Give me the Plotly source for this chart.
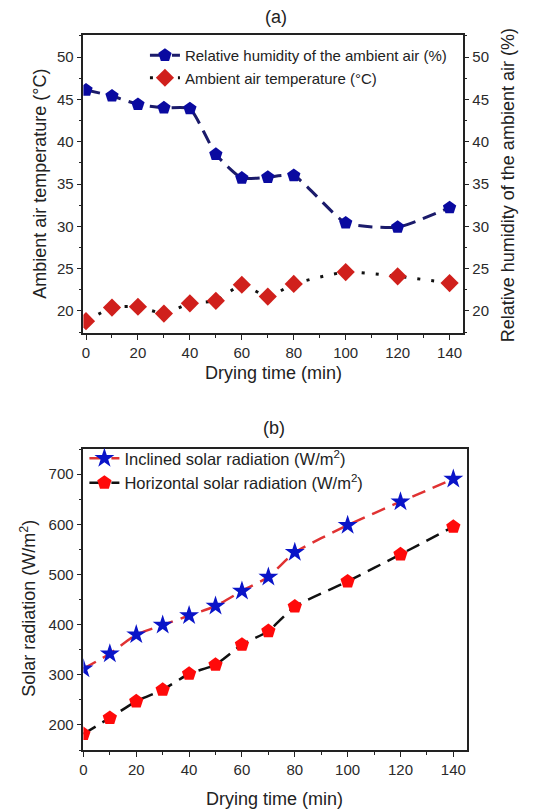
import plotly.graph_objects as go

# ---- data: panel (a)
time_a = [0, 10, 20, 30, 40, 50, 60, 70, 80, 100, 120, 140]
humidity = [46.1, 45.4, 44.4, 44.0, 43.9, 38.5, 35.7, 35.8, 36.0, 30.4, 29.9, 32.2]
temperature = [18.8, 20.4, 20.5, 19.7, 20.9, 21.2, 23.1, 21.7, 23.2, 24.6, 24.1, 23.3]

# ---- data: panel (b)
time_b = [0, 10, 20, 30, 40, 50, 60, 70, 80, 100, 120, 140]
inclined = [312, 342, 380, 399, 418, 437, 467, 495, 544, 598, 645, 690]
horizontal = [182, 214, 247, 270, 302, 320, 360, 387, 436, 486, 540, 595]

x_ticks = [0, 20, 40, 60, 80, 100, 120, 140]

W, H = 538, 812
FONT = "Liberation Sans, Arial, sans-serif"


def px_x(p):
    return p / W


def px_y(p):
    return 1 - p / H


fig = go.Figure()

fig.add_trace(go.Scatter(
    x=time_a, y=humidity, xaxis="x", yaxis="y2",
    mode="lines+markers", name="Relative humidity of the ambient air (%)",
    line=dict(color="#1b1b6b", width=3, dash="14px,8px", shape="spline", smoothing=0.5),
    marker=dict(symbol="pentagon", size=14, color="#0a0aa0"),
    legend="legend", legendgroup="a1",
))
fig.add_trace(go.Scatter(
    x=time_a, y=temperature, xaxis="x", yaxis="y",
    mode="lines+markers", name="Ambient air temperature (°C)",
    line=dict(color="#111111", width=3, dash="3px,11px", shape="spline", smoothing=0.5),
    marker=dict(symbol="diamond", size=14, color="#d0201c"),
    legend="legend", legendgroup="a2",
))
fig.add_trace(go.Scatter(
    x=time_b, y=inclined, xaxis="x2", yaxis="y3",
    mode="lines+markers", name="Inclined solar radiation (W/m<sup>2</sup>)",
    line=dict(color="#e03232", width=2.5, dash="14px,8px", shape="spline", smoothing=0.5),
    marker=dict(symbol="star", size=15, color="#0a14c8"),
    legend="legend2", legendgroup="b1",
))
fig.add_trace(go.Scatter(
    x=time_b, y=horizontal, xaxis="x2", yaxis="y3",
    mode="lines+markers", name="Horizontal solar radiation (W/m<sup>2</sup>)",
    line=dict(color="#111111", width=2.5, dash="14px,8px", shape="spline", smoothing=0.5),
    marker=dict(symbol="pentagon", size=15, color="#ff0a0a"),
    legend="legend2", legendgroup="b2",
))

axis_common = dict(
    showline=True, linecolor="#222", linewidth=1.5,
    ticks="outside", ticklen=5, tickwidth=1.3, tickcolor="#222",
    showgrid=False, zeroline=False,
    tickfont=dict(family=FONT, size=15, color="#2a2a2a"),
)
minor_common = dict(ticks="outside", ticklen=3, tickcolor="#222")

fig.update_layout(
    width=W, height=H,
    margin=dict(l=0, r=0, t=0, b=0),
    paper_bgcolor="white", plot_bgcolor="white",
    font=dict(family=FONT, color="#222"),
    xaxis=dict(axis_common, domain=[px_x(80), px_x(462)], anchor="y",
               range=[-1, 145], tickvals=x_ticks, mirror=True,
               minor=dict(minor_common, dtick=10)),
    yaxis=dict(axis_common, domain=[px_y(333), px_y(35)], anchor="x",
               range=[17.4, 52.6], dtick=5,
               minor=dict(minor_common, dtick=2.5)),
    yaxis2=dict(axis_common, overlaying="y", side="right", anchor="x",
                range=[17.4, 52.6], dtick=5,
                minor=dict(minor_common, dtick=2.5)),
    xaxis2=dict(axis_common, domain=[px_x(80), px_x(466)], anchor="y3",
                range=[0, 145], tickvals=x_ticks, mirror=True,
                minor=dict(minor_common, dtick=10)),
    yaxis3=dict(axis_common, domain=[px_y(750), px_y(449)], anchor="x2",
                range=[150, 750], dtick=100, mirror=True,
                minor=dict(minor_common, dtick=50)),
    legend=dict(x=px_x(142), y=px_y(39), xanchor="left", yanchor="top",
                bgcolor="rgba(0,0,0,0)", font=dict(family=FONT, size=15, color="#222"),
                tracegroupgap=0, itemwidth=30),
    legend2=dict(x=px_x(81), y=px_y(441), xanchor="left", yanchor="top",
                 bgcolor="rgba(0,0,0,0)", font=dict(family=FONT, size=16.5, color="#222"),
                 tracegroupgap=0, itemwidth=30),
    showlegend=True,
)

ann = [
    dict(text="(a)", x=px_x(274), y=px_y(17), size=18),
    dict(text="Drying time (min)", x=px_x(272), y=px_y(373), size=18),
    dict(text="Ambient air temperature (°C)", x=px_x(36), y=px_y(184), textangle=-90, size=18),
    dict(text="Relative humidity of the ambient air (%)", x=px_x(508), y=px_y(185), textangle=-90, size=18),
    dict(text="(b)", x=px_x(272), y=px_y(428), size=18),
    dict(text="Drying time (min)", x=px_x(273), y=px_y(799), size=18),
    dict(text="Solar radiation (W/m<sup>2</sup>)", x=px_x(24), y=px_y(608), textangle=-90, size=18),
]
for a in ann:
    size = a.pop("size")
    a.update(xref="paper", yref="paper", showarrow=False, xanchor="center", yanchor="middle",
             font=dict(family=FONT, size=size, color="#222"))
    fig.add_annotation(**a)

fig.write_html("out.html")
